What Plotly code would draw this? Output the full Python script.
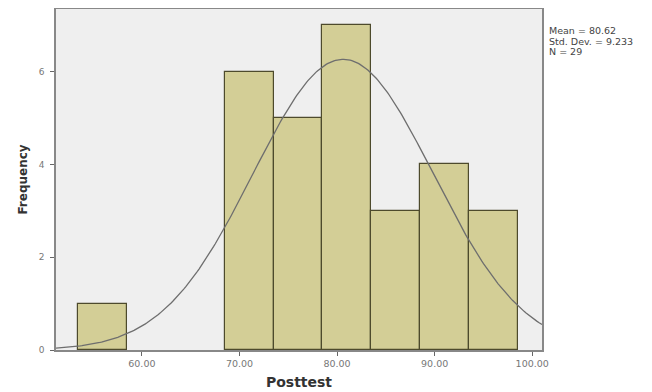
import numpy as np
import plotly.graph_objects as go

# Data
bin_centers = [56, 61, 66, 71, 76, 81, 86, 91, 96]
counts = [1, 0, 0, 6, 5, 7, 3, 4, 3]
bin_width = 5
mean_val = 80.62
std_val = 9.233
n_val = 29
x_ticks = [60, 70, 80, 90, 100]
x_tick_labels = ["60.00", "70.00", "80.00", "90.00", "100.00"]
y_ticks = [0, 2, 4, 6]
stats_lines = [f"Mean = {mean_val:.2f}", f"Std. Dev. = {std_val:.3f}", f"N = {n_val}"]

x_range = [51.2, 101.0]
y_range = [0, 7.35]

bx = [c for c, n in zip(bin_centers, counts) if n > 0]
by = [n for n in counts if n > 0]

fig = go.Figure()
fig.add_trace(go.Bar(
    x=bx, y=by, width=bin_width,
    marker=dict(color="#d3ce96", line=dict(color="#4d4a2c", width=1.2)),
    hoverinfo="skip", showlegend=False,
))

xs = np.linspace(x_range[0], x_range[1], 300)
ys = n_val * bin_width / (std_val * np.sqrt(2 * np.pi)) * np.exp(-0.5 * ((xs - mean_val) / std_val) ** 2)
fig.add_trace(go.Scatter(
    x=xs, y=ys, mode="lines",
    line=dict(color="#6e6e6e", width=1.3),
    hoverinfo="skip", showlegend=False,
))

fig.update_layout(
    width=652, height=392,
    margin=dict(l=48, r=118, t=1, b=50, autoexpand=False),
    paper_bgcolor="white",
    plot_bgcolor="#efefef",
    font=dict(family="DejaVu Sans, Liberation Sans, Arial", color="#555555", size=8),
    bargap=0,
    xaxis=dict(
        range=x_range, tickvals=x_ticks, ticktext=x_tick_labels,
        showgrid=False, zeroline=False, automargin=False,
        showline=True, linecolor="#888888", linewidth=1.5, mirror=True,
        ticks="outside", ticklen=4, tickcolor="#666666",
        tickfont=dict(size=9.5, color="#777777"),
        title=dict(text="<b>Posttest</b>", font=dict(size=14, color="#333333"), standoff=9),
    ),
    yaxis=dict(
        range=y_range, tickvals=y_ticks,
        showgrid=False, zeroline=False, automargin=False,
        showline=True, linecolor="#888888", linewidth=1.5, mirror=True,
        ticks="outside", ticklen=4, tickcolor="#666666", ticklabelstandoff=4,
        tickfont=dict(size=9, color="#777777"),
        title=dict(text="<b>Frequency</b>", font=dict(size=12, color="#333333"), standoff=9),
    ),
)

for line, yp in zip(stats_lines, [0.938, 0.906, 0.874]):
    fig.add_annotation(
        xref="paper", yref="paper", x=1.012, y=yp, xanchor="left", yanchor="middle",
        align="left", showarrow=False, text=line, borderpad=0,
        font=dict(size=9.5, color="#444444"),
    )

fig.write_html("out.html")
